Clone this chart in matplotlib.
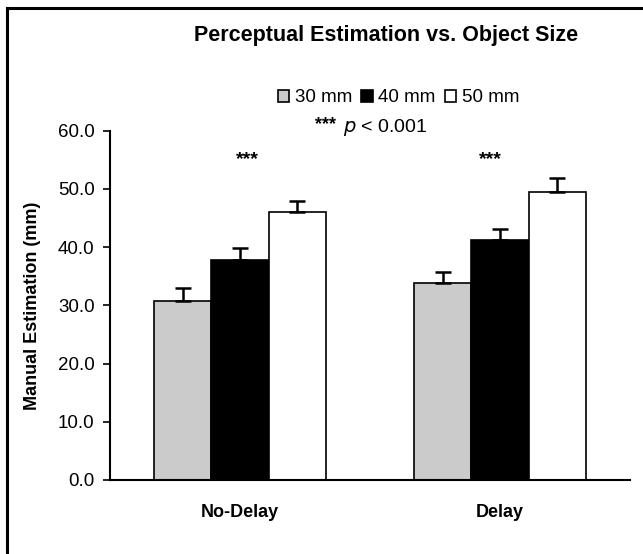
import matplotlib.pyplot as plt
import numpy as np
from matplotlib.lines import Line2D

plt.rcParams['font.family'] = ['Liberation Sans', 'DejaVu Sans']

# data
conditions = ["No-Delay", "Delay"]
sizes = ["30 mm", "40 mm", "50 mm"]
means = {
    "30 mm": [30.8, 33.8],
    "40 mm": [37.8, 41.2],
    "50 mm": [46.1, 49.5],
}
errors = {
    "30 mm": [2.2, 1.9],
    "40 mm": [2.1, 1.9],
    "50 mm": [1.8, 2.3],
}
colors = ["#cbcbcb", "#000000", "#ffffff"]
yticks = [0, 10, 20, 30, 40, 50, 60]
star_x = [0.527, 1.462]

fig = plt.figure(figsize=(6.43, 5.54), dpi=100)
ax = fig.add_axes([0.1711, 0.1336, 0.8087, 0.6305])

x = np.arange(len(conditions)) + 0.5
width = 0.221

for i, s in enumerate(sizes):
    pos = x + (i - 1) * width
    ax.bar(pos, means[s], width, color=colors[i], edgecolor="black",
           linewidth=1.2, label=s, zorder=2)
    ax.errorbar(pos, means[s], yerr=[np.zeros(len(conditions)), errors[s]],
                fmt="none", ecolor="black", elinewidth=1.8, capsize=5.5,
                capthick=1.8, zorder=3)

# significance markers
for xs in star_x:
    ax.text(xs, 55.0, "***", ha="center", va="center", fontsize=14,
            fontweight="bold")

ax.set_xlim(0, 2)
ax.set_ylim(0, 60)
ax.set_yticks(yticks)
ax.set_yticklabels([f"{v:.1f}" for v in yticks], fontsize=13.5)
ax.set_xticks(x)
ax.set_xticklabels(conditions, fontsize=13, fontweight="bold")
ax.tick_params(axis="x", length=0, pad=17)
ax.tick_params(axis="y", length=5, width=1.2, pad=6)
ax.spines["top"].set_visible(False)
ax.spines["right"].set_visible(False)
ax.spines["left"].set_linewidth(1.5)
ax.spines["bottom"].set_linewidth(1.5)
ax.set_ylabel("Manual Estimation (mm)", fontsize=13, fontweight="bold")
ax.yaxis.set_label_coords(-0.133, 0.5)

fig.text(0.601, 1 - 35 / 554, "Perceptual Estimation vs. Object Size",
         ha="center", va="center", fontsize=15.5, fontweight="bold")

fig.legend(loc="center", bbox_to_anchor=(0.620, 1 - 98 / 554), ncol=3,
           frameon=False, fontsize=13.5, handlelength=0.6, handleheight=0.6,
           handletextpad=0.3, columnspacing=0.5, borderpad=0)

fig.text(315 / 643, 1 - 125 / 554, "***", ha="left", va="center",
         fontsize=13, fontweight="bold")
fig.text(343 / 643, 1 - 127 / 554, "$\\it{p}$ < 0.001", ha="left",
         va="center", fontsize=14)

# frame around the figure (left and top edges are visible)
fig.add_artist(Line2D([7 / 643, 7 / 643], [0, 1 - 7.5 / 554],
                      transform=fig.transFigure, color="black", lw=2.2))
fig.add_artist(Line2D([7 / 643, 1], [1 - 7.5 / 554, 1 - 7.5 / 554],
                      transform=fig.transFigure, color="black", lw=2.2))

fig.savefig("out.png", dpi=100)
